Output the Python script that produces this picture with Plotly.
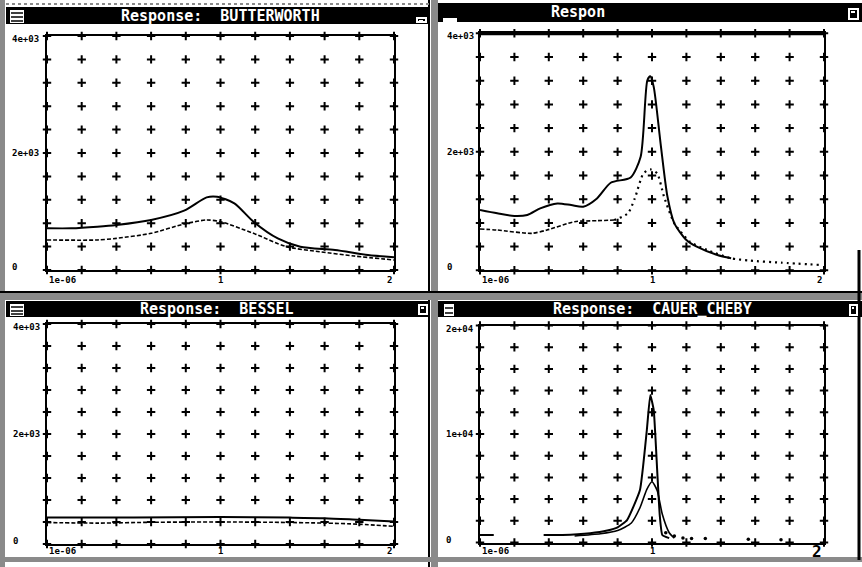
import numpy as np
import plotly.graph_objects as go

W, H = 862, 567

# ---------------- data ----------------
# Butterworth (top-left)
tl_solid_x = [0, 0.14, 0.29, 0.40, 0.60, 0.79, 0.92, 0.98, 1.08, 1.19, 1.33, 1.46, 1.66, 1.85, 2.0]
tl_solid_y = [713, 713, 740, 769, 855, 1014, 1242, 1253, 1140, 826, 541, 399, 342, 256, 217]
tl_dash_x = [0, 0.29, 0.40, 0.60, 0.79, 0.92, 1.0, 1.19, 1.38, 1.57, 1.77, 2.0]
tl_dash_y = [513, 513, 541, 627, 786, 855, 826, 627, 399, 313, 239, 171]

# "Respon" (top-right)
tr_solid_x = [0, 0.1, 0.2, 0.275, 0.35, 0.45, 0.53, 0.6, 0.68, 0.76, 0.876, 0.934, 0.973,
              0.99, 1.01, 1.05, 1.09, 1.13, 1.2, 1.26, 1.38, 1.46]
tr_solid_y = [1017, 961, 916, 933, 1045, 1129, 1101, 1073, 1213, 1478, 1567, 1916, 3208,
              3275, 3096, 2140, 1242, 792, 511, 399, 258, 202]
tr_dash_x = [0, 0.1, 0.3, 0.39, 0.55, 0.68, 0.78]
tr_dash_y = [697, 680, 624, 680, 820, 837, 848]
tr_dot_x = [0.78, 0.86, 0.9, 0.95, 0.99, 1.03, 1.07, 1.13, 1.22, 1.32, 1.46, 1.57, 1.75, 1.98]
tr_dot_y = [848, 961, 1213, 1635, 1702, 1635, 1242, 792, 483, 343, 202, 163, 129, 90]

# Bessel (bottom-left)
bl_solid_x = [0, 0.5, 1.0, 1.4, 1.6, 1.8, 2.0]
bl_solid_y = [480, 480, 490, 480, 470, 440, 410]
bl_dash_x = [0, 0.3, 0.6, 1.0, 1.3, 1.6, 1.8, 2.0]
bl_dash_y = [390, 380, 395, 400, 395, 380, 360, 320]

# Cauer Cheby (bottom-right)
br_solid_x = [0, 0.08, 0.2, 0.37, 0.48, 0.64, 0.74, 0.80, 0.855, 0.93, 0.97, 0.99, 1.01,
              1.03, 1.045, 1.06, 1.1]
br_solid_y = [700, 700, None, 690, 690, 850, 1100, 1400, 2070, 4840, 10370, 13600, 12200,
              6680, 2530, 690, 400]
br_low_x = [0.55, 0.7, 0.8, 0.88, 0.93, 0.97, 1.0, 1.03, 1.06, 1.1, 1.13]
br_low_y = [600, 800, 1100, 1800, 3200, 4900, 5600, 4800, 2600, 900, 400]
br_dot_x = [1.08, 1.13, 1.18, 1.23, 1.31, 1.56, 1.75]
br_dot_y = [900, 600, 420, 380, 380, 300, 250]

titles = ["Response:  BUTTERWORTH", "Respon", "Response:  BESSEL", "Response:  CAUER_CHEBY"]
x_tick_vals = [0, 1, 2]
x_tick_text = ["1e-06", "1", "2"]
y_tick_vals_small = [0, 2000, 4000]
y_tick_text_small = ["0", "2e+03", "4e+03"]
y_tick_vals_big = [0, 10000, 20000]
y_tick_text_big = ["0", "1e+04", "2e+04"]


def PX(x):
    return x / W


def PY(y):
    return 1 - y / H


panels = [
    dict(xa="x", ya="y", xd=(47, 394), yd=(36, 270), ymax=4000, ystep=400),
    dict(xa="x2", ya="y2", xd=(480, 824), yd=(33.3, 270.3), ymax=4000, ystep=400),
    dict(xa="x3", ya="y3", xd=(47, 394), yd=(324, 544), ymax=4000, ystep=400),
    dict(xa="x4", ya="y4", xd=(480, 824), yd=(325.5, 542.5), ymax=20000, ystep=2000),
]

fig = go.Figure()

# grid "+" markers
for p in panels:
    gx, gy = np.meshgrid(np.arange(0, 2.0001, 0.2), np.arange(0, p["ymax"] + 1, p["ystep"]))
    fig.add_trace(go.Scatter(
        x=gx.ravel(), y=gy.ravel(), mode="markers", xaxis=p["xa"], yaxis=p["ya"],
        marker=dict(symbol="cross-thin", size=6, color="black", line=dict(width=2, color="black")),
        cliponaxis=False, hoverinfo="skip", showlegend=False))

line_solid = dict(color="black", width=2, shape="spline", smoothing=0.7)
line_dash = dict(color="black", width=1.6, dash="4px,2px", shape="spline", smoothing=0.7)
line_dot = dict(color="black", width=2.2, dash="2px,4px", shape="spline", smoothing=0.6)

series = [
    (0, tl_solid_x, tl_solid_y, line_solid),
    (0, tl_dash_x, tl_dash_y, line_dash),
    (1, tr_solid_x, tr_solid_y, line_solid),
    (1, tr_dash_x, tr_dash_y, line_dash),
    (1, tr_dot_x, tr_dot_y, line_dot),
    (2, bl_solid_x, bl_solid_y, line_solid),
    (2, bl_dash_x, bl_dash_y, line_dash),
    (3, br_solid_x, br_solid_y, dict(color="black", width=2, shape="spline", smoothing=0.4)),
    (3, br_low_x, br_low_y, dict(color="black", width=1.6, shape="spline", smoothing=0.6)),
]
for i, xs, ys, ln in series:
    p = panels[i]
    fig.add_trace(go.Scatter(x=xs, y=ys, mode="lines", line=ln, xaxis=p["xa"], yaxis=p["ya"],
                             connectgaps=False, hoverinfo="skip", showlegend=False))

p = panels[3]
fig.add_trace(go.Scatter(x=br_dot_x, y=br_dot_y, mode="markers", xaxis=p["xa"], yaxis=p["ya"],
                         marker=dict(size=3.5, color="black"), hoverinfo="skip", showlegend=False))

layout = dict(width=W, height=H, margin=dict(l=0, r=0, t=0, b=0),
              paper_bgcolor="white", plot_bgcolor="white", showlegend=False)
for k, p in enumerate(panels):
    sfx = "" if k == 0 else str(k + 1)
    layout["xaxis" + sfx] = dict(domain=[PX(p["xd"][0]), PX(p["xd"][1])], range=[0, 2],
                                 anchor=p["ya"], showgrid=False, zeroline=False, showline=True,
                                 mirror=True, linecolor="black", linewidth=2,
                                 showticklabels=False, ticks="", fixedrange=True)
    layout["yaxis" + sfx] = dict(domain=[PY(p["yd"][1]), PY(p["yd"][0])], range=[0, p["ymax"]],
                                 anchor=p["xa"], showgrid=False, zeroline=False, showline=True,
                                 mirror=True, linecolor="black", linewidth=2,
                                 showticklabels=False, ticks="", fixedrange=True)
fig.update_layout(**layout)

shapes = []


def rect(x0, y0, x1, y1, fill, line_color=None, lw=0):
    shapes.append(dict(type="rect", xref="paper", yref="paper", x0=PX(x0), x1=PX(x1),
                       y0=PY(y1), y1=PY(y0), fillcolor=fill,
                       line=dict(color=line_color or fill, width=lw)))


def hline(x0, x1, y, color, width, dash="solid"):
    shapes.append(dict(type="line", xref="paper", yref="paper", x0=PX(x0), x1=PX(x1),
                       y0=PY(y), y1=PY(y), line=dict(color=color, width=width, dash=dash)))


def vline(x, y0, y1, color, width, dash="solid"):
    shapes.append(dict(type="line", xref="paper", yref="paper", x0=PX(x), x1=PX(x),
                       y0=PY(y0), y1=PY(y1), line=dict(color=color, width=width, dash=dash)))


# window borders (dithered frame approximated by grey)
rect(0, 0, 5, 567, "#8a8a8a")
rect(431, 0, 438, 567, "#8a8a8a")
vline(429, 0, 567, "black", 2)
rect(0, 291, 862, 300, "#8a8a8a")
hline(0, 862, 292, "black", 2)
rect(0, 557, 862, 562, "#8a8a8a")
hline(0, 862, 4, "#8a8a8a", 2, "dot")
vline(859, 250, 560, "black", 3)

# title bars
rect(6, 7, 428, 24, "black")
rect(438, 3, 862, 22, "black")
rect(6, 301, 428, 317, "black")
rect(438, 301, 862, 317, "black")

# system-menu icons (left)
for (x0, y0, x1, y1) in [(10, 10, 24, 23), (10, 304, 24, 316)]:
    rect(x0, y0, x1, y1, "white")
    for yy in (y0 + 3, y0 + 7, y1 - 2):
        hline(x0 + 1, x1 - 1, yy, "black", 1.5)
rect(443, 18, 457, 22, "white")
rect(444, 304, 454, 316, "white")
hline(445, 453, 308, "black", 1.5)
hline(445, 453, 313, "black", 1.5)

# right icons
for (x0, y0, x1, y1) in [(416, 17, 427, 23), (848, 8, 859, 20), (418, 304, 428, 315), (849, 304, 858, 316)]:
    rect(x0, y0, x1, y1, "white")
    rect(x0 + 2, y0 + 2, x1 - 2, y1 - 2, "black")
    rect(x0 + 3, y0 + 3, x1 - 4, y0 + 5, "white")

# thick top frame line on the top-right plot
shapes.append(dict(type="line", xref="x2 domain", yref="y2 domain", x0=0, x1=1, y0=1, y1=1,
                   line=dict(color="black", width=4)))

fig.update_layout(shapes=shapes)

ann = []
title_pos = [(220, 15.5), (578, 12.5), (217, 309), (652, 309)]
for t, (cx, cy) in zip(titles, title_pos):
    ann.append(dict(text="<b>" + t + "</b>", x=PX(cx), y=PY(cy), xref="paper", yref="paper",
                    xanchor="center", yanchor="middle", showarrow=False,
                    font=dict(family="DejaVu Sans Mono", size=15, color="white")))

tick_font = dict(family="DejaVu Sans Mono", size=9, color="black")
ylab_x = [10, 445, 11, 444]
xlab_y = [280, 280, 551, 551]
for k, p in enumerate(panels):
    vals = y_tick_vals_big if k == 3 else y_tick_vals_small
    texts = y_tick_text_big if k == 3 else y_tick_text_small
    for v, t in zip(vals, texts):
        shift = -3 if v == p["ymax"] else (3 if v == 0 else 0)
        ann.append(dict(text="<b>" + t + "</b>", x=PX(ylab_x[k]), y=v, xref="paper", yref=p["ya"],
                        xanchor="left", yanchor="middle", yshift=shift, showarrow=False,
                        font=tick_font))
    for v, t in zip(x_tick_vals, x_tick_text):
        xa = "left" if v == 0 else ("right" if v == 2 else "center")
        f = dict(tick_font)
        if k == 3 and v == 2:
            f = dict(family="DejaVu Sans Mono", size=16, color="black")
        ann.append(dict(text="<b>" + t + "</b>", x=v, y=PY(xlab_y[k]), xref=p["xa"], yref="paper",
                        xanchor=xa, yanchor="middle", showarrow=False, font=f))

fig.update_layout(annotations=ann)
fig.write_html("out.html")
